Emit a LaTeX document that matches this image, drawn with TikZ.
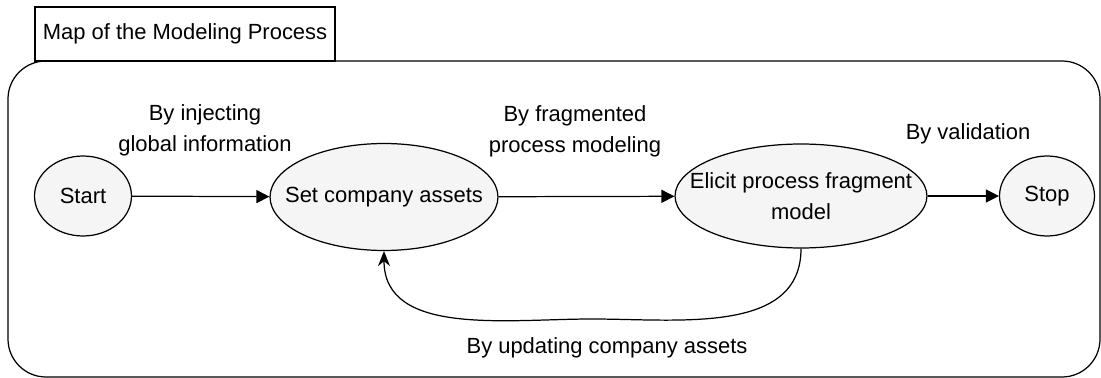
\documentclass[tikz,border=0pt]{standalone}
\usepackage{fontspec}
\setmainfont{Liberation Sans}
\usetikzlibrary{shapes.geometric,arrows.meta}
\definecolor{stategrey}{HTML}{F5F5F5}

\begin{document}
\begin{tikzpicture}[x=0.02cm,y=-0.02cm,
font={\fontsize{12.5}{17.6}\selectfont},
state/.style={ellipse, draw, fill=stategrey, line width=0.7pt, inner sep=0pt},
lbl/.style={align=center, inner sep=0pt},
flow/.style={line width=0.7pt, -{Triangle[length=0.26cm,width=0.26cm]}},
]
\useasboundingbox (0,0) rectangle (1101,378);

% frame and tab
\draw[line width=0.7pt, rounded corners=0.76cm] (8,61) rectangle (1100,377);
\draw[line width=0.7pt] (35,7) rectangle (335,61);
\node[lbl] (title) at (185,34) {Map of the Modeling Process};

\node[state, minimum width=1.94cm, minimum height=1.6cm, label={center:Start}] (start) at (83,196) {};
\node[state, minimum width=4.56cm, minimum height=2.14cm, label={center:Set company assets}] (set) at (384,197) {};
\node[state, minimum width=5.04cm, minimum height=2.08cm, label={[lbl]center:Elicit process fragment\\model}] (elicit) at (801,196) {};
\node[state, minimum width=1.9cm, minimum height=1.6cm, label={center:Stop}] (stop) at (1047,196) {};

\node[lbl] (inject) at (205,130) {By injecting\\global information};
\node[lbl] (fragment) at (575,131) {By fragmented\\process modeling};
\node[lbl] (valid) at (968,134) {By validation};
\node[lbl] (update) at (607,348) {By updating company assets};

\coordinate (loop) at (592,319);

\path[flow]
(start) edge (set)
(set) edge (elicit)
(elicit) edge (stop)
;
\draw[line width=0.7pt, -{Stealth[length=0.3cm,width=0.24cm]}] (elicit.south) to[out=-90,in=0] (loop) to[out=180,in=-90] (set.south);
\end{tikzpicture}
\end{document}
